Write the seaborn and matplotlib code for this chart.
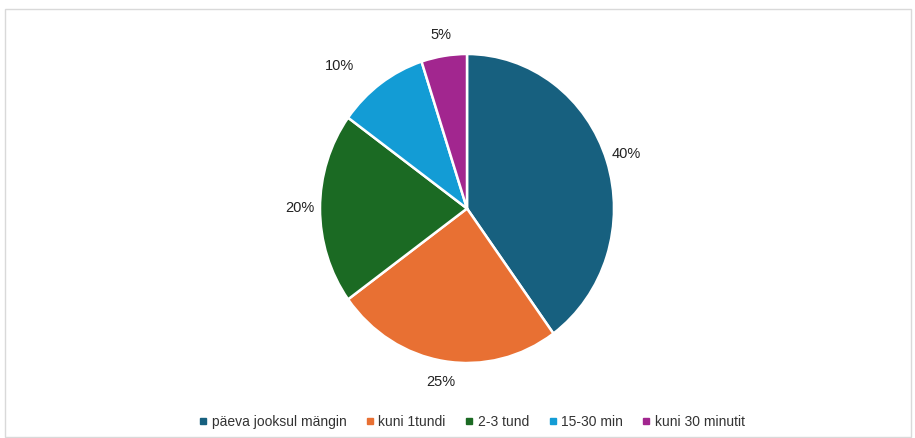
import matplotlib
matplotlib.use("Agg")
import matplotlib.pyplot as plt
from matplotlib.patches import Rectangle
from matplotlib.lines import Line2D
import seaborn as sns

sns.set_theme(style="white")
plt.rcParams['font.family'] = ['Liberation Sans', 'DejaVu Sans']

# data
categories = ['päeva jooksul mängin', 'kuni 1tundi', '2-3 tund', '15-30 min', 'kuni 30 minutit']
shares = [40, 25, 20, 10, 5]
colors = ['#17607f', '#e87033', '#1b6a23', '#139cd5', '#a2268f']

fig = plt.figure(figsize=(9.15, 4.38), dpi=100)
fig.patch.set_facecolor('white')

# light frame around the chart area
fig.patches.append(Rectangle((5 / 915, 1 / 438), 906 / 915, 428 / 438,
                             transform=fig.transFigure, fill=False,
                             edgecolor='#d9d9d9', linewidth=1))

# pie is drawn slightly squeezed horizontally, as in the original
ax = fig.add_axes([320 / 915, 75 / 438, 294 / 915, 309 / 438])
wedges, texts = ax.pie(shares, colors=colors, startangle=90, counterclock=False,
                       labels=['{}%'.format(s) for s in shares], labeldistance=1.14,
                       wedgeprops=dict(edgecolor='white', linewidth=1.8),
                       textprops=dict(fontsize=10.5, color='#222222'))
for t in texts:
    t.set_horizontalalignment('center')
    t.set_verticalalignment('center')
# the small 10% label sits further out to the left
texts[3].set_horizontalalignment('right')
texts[3].set_x(texts[3].get_position()[0] - 0.1)
ax.set_xlim(-1, 1)
ax.set_ylim(-1, 1)
ax.set_aspect('auto')
for w in wedges:
    w.set_clip_on(False)

handles = [Line2D([0], [0], marker='s', linestyle='none', markersize=4,
                  markerfacecolor=c, markeredgecolor=c) for c in colors]
fig.legend(handles, categories, loc='center', bbox_to_anchor=(472 / 915, 1 - 422 / 438),
           ncol=5, frameon=False, fontsize=10, handlelength=0.6, handletextpad=0.3,
           columnspacing=1.4, labelcolor='#333333')

fig.savefig('out.png', dpi=100, facecolor='white')
